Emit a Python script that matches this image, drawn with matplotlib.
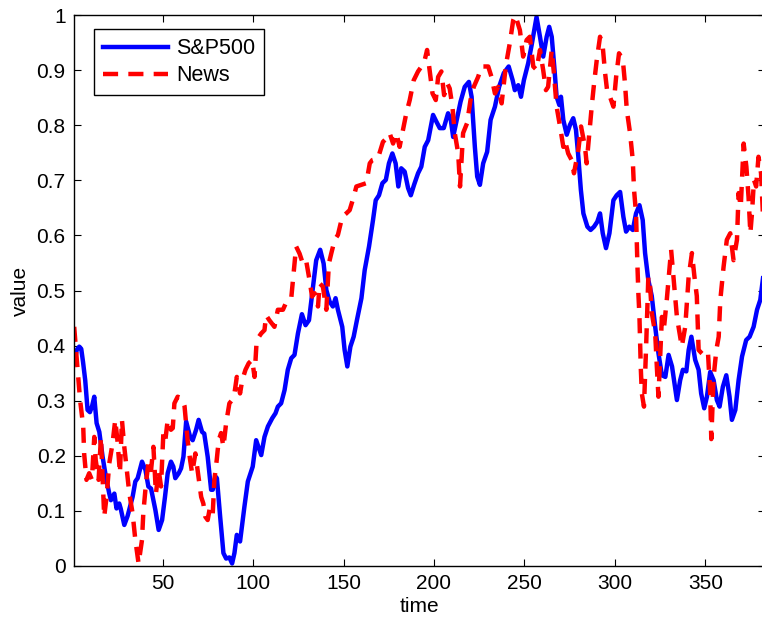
"""Normalised S&P500 index against a news based signal over time."""

import matplotlib
matplotlib.use("Agg")
import matplotlib.pyplot as plt

# S&P500 curve (time, value)
sp_time = [1.1, 2.5, 3.9, 5.0, 6.0, 7.2, 8.5, 9.8, 11.0, 12.2, 13.5, 15.0, 16.8, 18.6, 20.5,
           21.4, 23.3, 24.5, 26.0, 26.8, 28.8, 30.6, 33.4, 34.9, 36.2, 38.6, 40.5, 42.1, 43.6,
           46.0, 47.8, 49.7, 51.3, 52.8, 54.6, 55.9, 57.0, 58.9, 60.2, 61.5, 63.0, 65.2, 66.6,
           68.5, 69.9, 71.8, 73.0, 74.9, 76.8, 77.7, 79.2, 80.0, 81.8, 83.6, 85.1, 86.9, 88.4,
           89.7, 91.0, 92.8, 95.2, 97.1, 99.8, 101.7, 104.5, 106.3, 108.2, 110.6, 112.4, 113.7,
           115.5, 117.4, 119.2, 121.1, 122.9, 124.8, 127.0, 129.0, 130.9, 132.5, 134.9, 137.1,
           139.0, 140.5, 142.3, 144.1, 145.6, 146.9, 149.3, 150.6, 152.1, 153.8, 155.6, 157.4,
           159.9, 161.7, 164.1, 166.3, 167.8, 169.6, 171.5, 173.4, 175.1, 177.0, 178.8, 180.3,
           181.9, 183.8, 185.7, 187.2, 189.0, 191.2, 193.0, 194.9, 196.8, 199.5, 201.3, 203.2,
           205.4, 207.8, 209.3, 210.6, 212.4, 214.7, 217.0, 219.3, 220.8, 222.6, 223.9, 225.4,
           227.2, 229.4, 231.3, 233.7, 236.0, 238.6, 241.3, 243.5, 244.7, 246.6, 248.1, 249.7,
           252.1, 254.0, 256.7, 258.6, 260.4, 262.3, 263.7, 265.1, 266.5, 267.8, 269.3, 270.2,
           271.5, 273.4, 275.2, 277.0, 278.5, 279.8, 281.2, 282.6, 284.8, 286.6, 288.5, 290.3,
           291.8, 293.3, 295.1, 297.0, 299.2, 301.0, 302.9, 304.7, 306.2, 308.0, 309.9, 311.7,
           313.6, 315.4, 316.7, 318.5, 320.4, 322.3, 324.1, 326.0, 327.9, 329.7, 331.6, 334.3,
           336.1, 337.6, 339.5, 340.8, 342.3, 344.4, 346.3, 347.7, 349.4, 350.9, 352.7, 354.6,
           356.4, 357.9, 359.7, 361.6, 363.4, 364.7, 366.6, 368.4, 370.3, 372.6, 374.5, 376.7,
           378.6, 380.4, 382.0]
sp_value = [0.368, 0.392, 0.398, 0.394, 0.37, 0.337, 0.283, 0.279, 0.29, 0.307, 0.259, 0.243,
            0.198, 0.162, 0.131, 0.119, 0.131, 0.104, 0.113, 0.104, 0.074, 0.09, 0.125, 0.153,
            0.159, 0.189, 0.174, 0.144, 0.14, 0.101, 0.065, 0.083, 0.125, 0.168, 0.189, 0.18,
            0.159, 0.168, 0.177, 0.198, 0.262, 0.234, 0.228, 0.247, 0.265, 0.243, 0.24, 0.198,
            0.138, 0.138, 0.162, 0.159, 0.089, 0.023, 0.013, 0.015, 0.004, 0.023, 0.056, 0.044,
            0.107, 0.153, 0.18, 0.228, 0.201, 0.234, 0.253, 0.268, 0.277, 0.289, 0.295, 0.319,
            0.356, 0.377, 0.383, 0.422, 0.457, 0.437, 0.446, 0.49, 0.555, 0.574, 0.549, 0.501,
            0.48, 0.471, 0.486, 0.465, 0.434, 0.392, 0.362, 0.398, 0.416, 0.446, 0.486, 0.537,
            0.58, 0.628, 0.664, 0.673, 0.695, 0.701, 0.731, 0.749, 0.731, 0.689, 0.722, 0.716,
            0.686, 0.673, 0.692, 0.713, 0.725, 0.761, 0.773, 0.819, 0.807, 0.795, 0.795, 0.822,
            0.81, 0.779, 0.807, 0.843, 0.87, 0.879, 0.852, 0.761, 0.707, 0.692, 0.731, 0.752,
            0.81, 0.834, 0.87, 0.895, 0.907, 0.882, 0.864, 0.873, 0.852, 0.882, 0.913, 0.946,
            0.997, 0.961, 0.925, 0.961, 0.979, 0.961, 0.907, 0.852, 0.837, 0.852, 0.81, 0.783,
            0.801, 0.813, 0.792, 0.743, 0.683, 0.64, 0.616, 0.61, 0.616, 0.625, 0.64, 0.604,
            0.577, 0.604, 0.664, 0.673, 0.679, 0.634, 0.607, 0.616, 0.61, 0.64, 0.655, 0.628,
            0.568, 0.519, 0.49, 0.434, 0.386, 0.346, 0.343, 0.383, 0.362, 0.301, 0.337, 0.356,
            0.353, 0.392, 0.416, 0.374, 0.356, 0.313, 0.286, 0.307, 0.352, 0.337, 0.301, 0.289,
            0.325, 0.346, 0.307, 0.265, 0.283, 0.337, 0.38, 0.41, 0.416, 0.434, 0.465, 0.483,
            0.525]

# News signal (time, value)
news_time = [1.1, 2.4, 3.5, 4.4, 6.1, 6.6, 7.9, 9.4, 10.9, 12.2, 13.0, 14.6, 15.9, 17.7, 19.0,
             20.5, 22.3, 23.8, 25.0, 26.4, 27.5, 28.8, 30.0, 31.6, 33.4, 34.9, 36.7, 38.6, 39.3,
             40.8, 42.3, 43.6, 44.9, 46.3, 47.8, 49.1, 50.4, 51.5, 52.8, 54.6, 55.6, 56.5, 58.3,
             60.7, 62.1, 63.8, 65.2, 66.3, 68.1, 69.3, 71.3, 72.5, 73.6, 74.9, 76.2, 77.7, 78.6,
             79.9, 81.0, 82.3, 83.6, 85.1, 86.9, 88.4, 89.7, 91.0, 92.8, 94.0, 95.8, 97.6, 99.5,
             100.8, 102.0, 104.5, 106.3, 107.2, 109.0, 111.8, 113.7, 116.5, 118.5, 121.1, 123.8,
             125.7, 127.5, 129.3, 131.2, 132.6, 134.0, 135.9, 136.8, 138.6, 140.5, 141.9, 143.2,
             145.1, 146.9, 149.3, 151.5, 153.4, 155.6, 157.1, 159.9, 162.6, 164.5, 165.9, 169.0,
             171.8, 173.6, 175.5, 177.4, 179.2, 181.0, 184.7, 186.6, 188.8, 191.2, 193.1, 194.9,
             196.2, 199.2, 201.0, 202.3, 204.1, 205.6, 207.4, 208.7, 210.2, 211.5, 213.4, 214.4,
             216.1, 218.3, 220.2, 222.0, 224.4, 226.3, 230.0, 231.8, 233.7, 235.5, 237.4, 239.8,
             241.9, 243.8, 245.0, 247.5, 249.3, 251.2, 253.0, 254.9, 256.7, 258.6, 260.4, 261.9,
             263.1, 265.1, 266.3, 267.8, 269.7, 271.5, 272.4, 274.2, 276.1, 277.4, 279.8, 281.3,
             283.5, 284.4, 285.9, 287.2, 288.5, 290.0, 291.8, 293.3, 294.6, 295.9, 297.3, 299.2,
             300.7, 302.3, 304.4, 305.6, 306.6, 308.4, 309.9, 310.6, 311.7, 312.1, 312.5, 313.0,
             313.6, 314.3, 314.9, 316.1, 317.3, 318.5, 319.5, 320.4, 322.3, 323.2, 324.1, 326.0,
             327.2, 328.7, 331.1, 332.4, 334.3, 337.0, 338.9, 340.8, 342.6, 344.0, 345.3, 346.3,
             348.0, 349.9, 351.5, 352.7, 353.3, 354.6, 356.1, 357.4, 358.3, 360.1, 361.9, 363.8,
             365.6, 367.5, 368.4, 369.6, 371.2, 372.7, 373.9, 374.9, 375.8, 376.9, 378.1, 379.4,
             380.8, 382.0]
news_value = [0.434, 0.38, 0.337, 0.30, 0.253, 0.204, 0.156, 0.168, 0.156, 0.234, 0.192, 0.156,
              0.234, 0.089, 0.125, 0.186, 0.222, 0.265, 0.228, 0.168, 0.265, 0.216, 0.18, 0.131,
              0.095, 0.047, 0.004, 0.047, 0.095, 0.15, 0.192, 0.174, 0.216, 0.131, 0.174, 0.144,
              0.241, 0.228, 0.265, 0.247, 0.25, 0.295, 0.307, 0.304, 0.29, 0.228, 0.192, 0.168,
              0.204, 0.174, 0.125, 0.113, 0.089, 0.083, 0.107, 0.095, 0.156, 0.192, 0.228, 0.241,
              0.216, 0.259, 0.295, 0.301, 0.313, 0.343, 0.313, 0.337, 0.356, 0.368, 0.374, 0.343,
              0.41, 0.422, 0.428, 0.455, 0.446, 0.434, 0.465, 0.465, 0.48, 0.486, 0.58, 0.567,
              0.549, 0.555, 0.519, 0.489, 0.495, 0.471, 0.513, 0.507, 0.465, 0.549, 0.567, 0.592,
              0.601, 0.634, 0.64, 0.646, 0.67, 0.689, 0.692, 0.695, 0.731, 0.737, 0.74, 0.77,
              0.776, 0.786, 0.767, 0.786, 0.761, 0.822, 0.846, 0.882, 0.898, 0.907, 0.919, 0.937,
              0.858, 0.846, 0.888, 0.898, 0.855, 0.876, 0.867, 0.834, 0.786, 0.749, 0.689, 0.786,
              0.804, 0.846, 0.87, 0.888, 0.907, 0.907, 0.888, 0.858, 0.87, 0.84, 0.91, 0.949,
              0.991, 1.0, 0.973, 0.925, 0.955, 0.961, 0.907, 0.901, 0.937, 0.9, 0.864, 0.87,
              0.937, 0.895, 0.834, 0.798, 0.761, 0.773, 0.749, 0.737, 0.713, 0.755, 0.798, 0.761,
              0.731, 0.786, 0.834, 0.876, 0.919, 0.961, 0.943, 0.895, 0.858, 0.852, 0.834, 0.888,
              0.931, 0.919, 0.876, 0.828, 0.786, 0.737, 0.683, 0.64, 0.592, 0.543, 0.495, 0.452,
              0.362, 0.313, 0.289, 0.4, 0.525, 0.507, 0.46, 0.422, 0.362, 0.307, 0.452, 0.434,
              0.483, 0.574, 0.525, 0.452, 0.398, 0.434, 0.525, 0.568, 0.525, 0.49, 0.392, 0.386,
              0.38, 0.386, 0.313, 0.23, 0.343, 0.392, 0.416, 0.483, 0.543, 0.592, 0.604, 0.555,
              0.592, 0.677, 0.652, 0.767, 0.725, 0.67, 0.604, 0.64, 0.701, 0.689, 0.743, 0.713,
              0.628]

x_ticks = [50, 100, 150, 200, 250, 300, 350]
y_ticks = [0, 0.1, 0.2, 0.3, 0.4, 0.5, 0.6, 0.7, 0.8, 0.9, 1]
y_tick_labels = ["0", "0.1", "0.2", "0.3", "0.4", "0.5", "0.6", "0.7", "0.8", "0.9", "1"]

plt.rcParams["font.family"] = ["Liberation Sans", "DejaVu Sans"]
plt.rcParams["font.size"] = 15

fig = plt.figure(figsize=(7.62, 6.24), dpi=100)
# axes box runs a little past the right edge of the picture, as in the reference
ax = fig.add_axes([74 / 762, 58.3 / 624, 691 / 762, 550.4 / 624])

ax.plot(sp_time, sp_value, color="#0000ff", linewidth=3.2, label="S&P500")
ax.plot(news_time, news_value, color="#ff0000", linewidth=3.2, dashes=(3.4, 2.3),
        label="News")

ax.set_xlim(1, 383)
ax.set_ylim(0, 1)
ax.set_xticks(x_ticks)
ax.set_yticks(y_ticks)
ax.set_yticklabels(y_tick_labels)
ax.tick_params(direction="in", length=5, width=0.8, top=True, right=True, pad=6)
for spine in ax.spines.values():
    spine.set_linewidth(1.0)

ax.set_xlabel("time", labelpad=3)
ax.set_ylabel("value", labelpad=5)

leg = ax.legend(loc="upper left", bbox_to_anchor=(0.029, 0.975), borderaxespad=0,
                fancybox=False, edgecolor="black", framealpha=1, handlelength=3.0,
                handletextpad=0.4, labelspacing=0.28, borderpad=0.42,
                prop={"size": 15.5})
leg.get_frame().set_linewidth(1.0)

fig.savefig("out.png", dpi=100)
